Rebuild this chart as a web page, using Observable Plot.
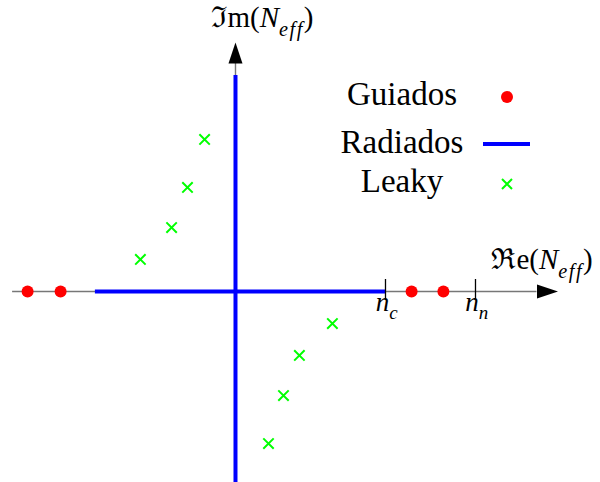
<!DOCTYPE html>
<html>
<head>
<meta charset="utf-8">
<script src="https://cdn.jsdelivr.net/npm/d3@7"></script>
<script src="https://cdn.jsdelivr.net/npm/@observablehq/plot@0.6"></script>
<style>
  html, body { margin: 0; padding: 0; background: #fff; }
  #chart svg { display: block; }
  #chart text { font-variant-ligatures: none; font-kerning: none; }
</style>
</head>
<body>
<div id="chart"></div>
<script>
// Guided modes: purely real effective indices (both propagation directions)
const guidedRe = [-6.93, -5.83, 5.87, 6.93];
const guidedIm = [0, 0, 0, 0];

// Leaky modes: complex effective indices
const leakyRe = [-3.17, -2.13, -1.6, -1.03, 1.1, 1.6, 2.13, 3.23];
const leakyIm = [1.07, 2.13, 3.47, 5.07, -5.07, -3.47, -2.13, -1.07];

// Radiation continuum: part of the real axis and the imaginary axis
const radiatedRe = [-4.67, 5];
const radiatedIm = [-6.4, 7.2];

// Reference indices marked on the real axis
const tickValues = [5, 8];
const tickLabels = ["*n*_{c}", "*n*_{n}"];

// Axis titles (markup: *italic*, _{subscript})
const axisLabels = ["ℜe(*N*_{eff})", "ℑm(*N*_{eff})"];

// Legend entries
const legendLabels = ["Guiados", "Radiados", "Leaky"];

const guided = guidedRe.map((re, i) => ({re, im: guidedIm[i]}));
const leaky = leakyRe.map((re, i) => ({re, im: leakyIm[i]}));

// Extent of the drawn axes (the arrowheads sit at the ends)
const reAxisEnd = [-7.43, 10.05];
const imAxisEnd = [-6.4, 7.6];

// Filled arrowheads as custom symbols
const arrowRight = {draw(ctx) { ctx.moveTo(21, 0); ctx.lineTo(0, -7); ctx.lineTo(0, 7); ctx.closePath(); }};
const arrowUp = {draw(ctx) { ctx.moveTo(0, -21); ctx.lineTo(7, 0); ctx.lineTo(-7, 0); ctx.closePath(); }};

const FONT = '"Liberation Serif", "DejaVu Serif", serif';

const chart = Plot.plot({
  width: 600,
  height: 482,
  margin: 0,
  x: {domain: [-7.833, 12.167], axis: null},
  y: {domain: [-6.367, 9.7], axis: null},
  style: {fontFamily: FONT, background: "white", color: "black"},
  marks: [
    // axes
    Plot.ruleY([0], {x1: reAxisEnd[0], x2: reAxisEnd[1], stroke: "#777", strokeWidth: 1.4}),
    Plot.ruleX([0], {y1: imAxisEnd[0], y2: imAxisEnd[1], stroke: "#777", strokeWidth: 1.4}),
    Plot.dot([reAxisEnd[1]], {x: d => d, y: 0, symbol: arrowRight, fill: "black", stroke: null}),
    Plot.dot([imAxisEnd[1]], {x: 0, y: d => d, symbol: arrowUp, fill: "black", stroke: null}),
    // radiation continuum
    Plot.ruleY([0], {x1: radiatedRe[0], x2: radiatedRe[1], stroke: "#0000ff", strokeWidth: 4}),
    Plot.ruleX([0], {y1: radiatedIm[0], y2: radiatedIm[1], stroke: "#0000ff", strokeWidth: 4}),
    // reference index ticks
    Plot.ruleX(tickValues, {y1: -0.3, y2: 0.4, stroke: "black", strokeWidth: 1.3}),
    Plot.text(tickValues, {x: d => d, y: 0, text: (d, i) => tickLabels[i], dy: 20, dx: 2,
      lineAnchor: "bottom", fontSize: 27, fill: "black"}),
    // guided modes
    Plot.dot(guided, {x: "re", y: "im", r: 6, fill: "#ff0000", stroke: null}),
    // leaky modes
    Plot.dot(leaky, {x: "re", y: "im", r: 4.8, symbol: "times", stroke: "#00ff00", strokeWidth: 2}),
    // axis titles
    Plot.text([axisLabels[0]], {x: 8.53, y: 0, text: d => d, dy: -22, lineAnchor: "bottom",
      textAnchor: "start", fontSize: 29, fill: "black"}),
    Plot.text([axisLabels[1]], {x: 0, y: 8.8, text: d => d, dx: 27, lineAnchor: "bottom",
      textAnchor: "middle", fontSize: 29, fill: "black"})
  ]
});

// Turn *italic* and _{sub} markup into tspans
function richify(el) {
  const src = el.textContent;
  if (!/[*_]/.test(src)) return;
  el.textContent = "";
  const re = /_\{([^}]*)\}|\*([^*]+)\*|([^*_]+)/g;
  let m, shifted = false;
  while ((m = re.exec(src))) {
    const t = document.createElementNS("http://www.w3.org/2000/svg", "tspan");
    if (m[1] != null) {
      t.textContent = m[1];
      t.setAttribute("font-style", "italic");
      t.setAttribute("font-size", "70%");
      t.setAttribute("letter-spacing", "1.5");
      t.setAttribute("dy", "0.4em");
      shifted = true;
    } else {
      if (m[2] != null) { t.textContent = m[2]; t.setAttribute("font-style", "italic"); }
      else t.textContent = m[3];
      if (shifted) { t.setAttribute("dy", "-0.28em"); shifted = false; }
    }
    el.appendChild(t);
  }
}
d3.select(chart).selectAll("text").each(function() { richify(this); });

// Legend
const legend = d3.select(chart).append("g")
  .attr("font-family", FONT).attr("font-size", 33);
const rows = [105, 153, 192];
const symY = [97, 144, 184];
legendLabels.forEach((label, i) => {
  legend.append("text").attr("x", 402).attr("y", rows[i])
    .attr("text-anchor", "middle").attr("fill", "black").text(label);
});
legend.append("circle").attr("cx", 507).attr("cy", symY[0]).attr("r", 6).attr("fill", "#ff0000");
legend.append("line").attr("x1", 483).attr("x2", 530).attr("y1", symY[1]).attr("y2", symY[1])
  .attr("stroke", "#0000ff").attr("stroke-width", 4);
legend.append("path").attr("transform", `translate(507,${symY[2]})`)
  .attr("d", "M-5,-5L5,5M-5,5L5,-5").attr("stroke", "#00ff00").attr("stroke-width", 2);

document.getElementById("chart").appendChild(chart);
</script>
</body>
</html>
